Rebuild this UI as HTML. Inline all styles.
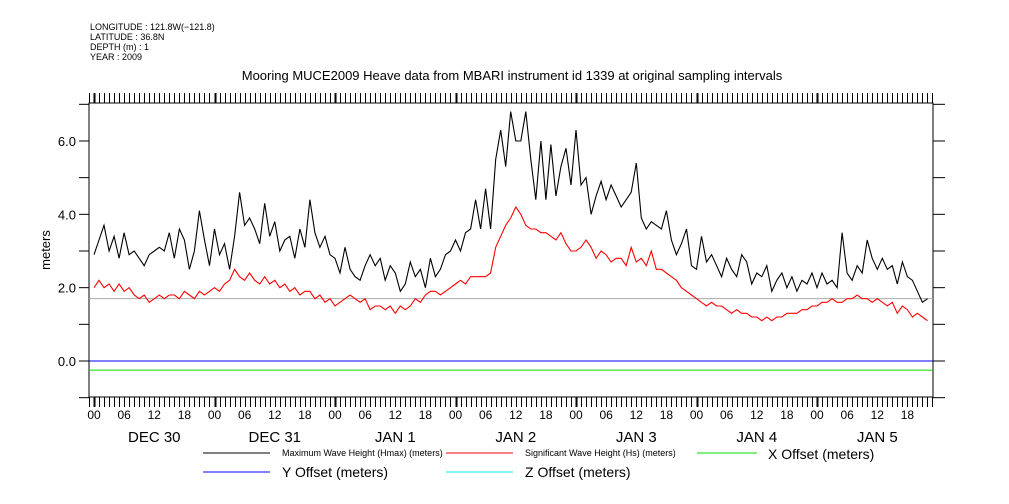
<!DOCTYPE html>
<html><head><meta charset="utf-8"><style>
body{margin:0;background:#fff}
svg{display:block;font-family:"Liberation Sans",sans-serif}
</style></head><body>
<svg id="chart" width="1009" height="504" viewBox="0 0 1009 504" xmlns="http://www.w3.org/2000/svg">
<g font-size="9" fill="#000">
<text x="90" y="30">LONGITUDE : 121.8W(−121.8)</text>
<text x="90" y="40">LATITUDE : 36.8N</text>
<text x="90" y="50">DEPTH (m) : 1</text>
<text x="90" y="60">YEAR : 2009</text>
</g>
<text x="512" y="80" text-anchor="middle" font-size="13">Mooring MUCE2009 Heave data from MBARI instrument id 1339 at original sampling intervals</text>
<text transform="translate(50,250) rotate(-90)" text-anchor="middle" font-size="13">meters</text>
<g id="axes"></g>
<g id="marks"></g>
<g font-size="14">
<line x1="203" y1="453" x2="270" y2="453" stroke="#000"/>
<text x="282" y="456" font-size="9">Maximum Wave Height (Hmax) (meters)</text>
<line x1="446" y1="453" x2="513" y2="453" stroke="#f00"/>
<text x="525" y="456" font-size="9">Significant Wave Height (Hs) (meters)</text>
<line x1="697" y1="453" x2="757" y2="453" stroke="#0d0"/>
<text x="768" y="459">X Offset (meters)</text>
<line x1="203" y1="472" x2="270" y2="472" stroke="#00f"/>
<text x="282" y="477">Y Offset (meters)</text>
<line x1="446" y1="472" x2="513" y2="472" stroke="#0ee"/>
<text x="525" y="477">Z Offset (meters)</text>
</g>
</svg>
<script>
const hmax=[2.9,3.3,3.7,3.0,3.4,2.8,3.5,2.9,3.0,2.8,2.6,2.9,3.0,3.1,3.0,3.5,2.8,3.6,3.3,2.5,3.0,4.1,3.3,2.6,
3.6,2.9,3.2,2.5,3.4,4.6,3.7,3.9,3.6,3.2,4.3,3.4,3.8,3.0,3.3,3.4,2.8,3.6,3.1,4.4,3.5,3.1,3.4,2.9,
2.8,2.4,3.1,2.5,2.3,2.2,2.6,2.9,2.6,2.8,2.2,2.6,2.4,1.9,2.1,2.7,2.3,2.5,2.0,2.8,2.3,2.5,2.9,3.0,
3.3,3.0,3.5,3.6,4.4,3.6,4.7,3.6,5.5,6.3,5.3,6.8,6.0,6.0,6.8,5.5,4.4,6.0,4.4,5.9,4.5,5.3,5.8,4.8,
6.3,4.8,5.0,4.0,4.5,4.9,4.4,4.8,4.5,4.2,4.4,4.6,5.4,3.9,3.6,3.8,3.7,3.6,4.1,3.3,2.9,3.2,3.6,2.6,
2.5,3.4,2.7,2.9,2.6,2.3,2.8,2.5,2.3,2.9,2.7,2.1,2.4,2.3,2.6,1.9,2.2,2.4,2.0,2.3,1.9,2.2,2.1,2.4,
2.0,2.4,2.1,2.2,2.0,3.5,2.4,2.2,2.6,2.4,3.3,2.8,2.5,2.8,2.5,2.6,2.1,2.7,2.3,2.2,1.9,1.6,1.7];
const hs=[2.0,2.2,2.0,2.1,1.9,2.1,1.9,2.0,1.8,1.7,1.8,1.6,1.7,1.8,1.7,1.8,1.8,1.7,1.9,1.8,1.7,1.9,1.8,1.9,
2.0,1.9,2.1,2.2,2.5,2.3,2.2,2.4,2.2,2.1,2.3,2.1,2.2,2.0,2.1,1.9,2.0,1.8,1.9,1.9,1.7,1.8,1.6,1.7,
1.5,1.6,1.7,1.8,1.7,1.6,1.7,1.4,1.5,1.5,1.4,1.5,1.3,1.5,1.4,1.5,1.7,1.6,1.8,1.9,1.9,1.8,1.9,2.0,
2.1,2.2,2.1,2.3,2.3,2.3,2.3,2.4,3.1,3.4,3.7,3.9,4.2,4.0,3.7,3.6,3.6,3.5,3.5,3.4,3.3,3.5,3.2,3.0,
3.0,3.1,3.3,3.1,2.8,3.0,2.9,2.7,2.8,2.8,2.6,3.1,2.7,2.8,2.6,3.0,2.5,2.5,2.4,2.3,2.2,2.0,1.9,1.8,
1.7,1.6,1.5,1.6,1.5,1.5,1.4,1.3,1.4,1.3,1.3,1.2,1.2,1.1,1.2,1.1,1.2,1.2,1.3,1.3,1.3,1.4,1.4,1.5,
1.5,1.6,1.6,1.7,1.6,1.6,1.7,1.7,1.8,1.7,1.7,1.6,1.7,1.6,1.5,1.6,1.3,1.5,1.4,1.2,1.3,1.2,1.1];
const xOffset=[-0.25];
const yOffset=[0.0];
const zOffset=[1.7];
const yTicks=[-1,0,1,2,3,4,5,6,7];
const yLabels=["6.0","4.0","2.0","0.0"];
const dayLabels=["DEC 30","DEC 31","JAN  1","JAN  2","JAN  3","JAN  4","JAN  5"];
const hourLabels=["00","06","12","18"];

const L=89,R=933,T=103,B=397;
const X=h=>94+h*(120.5/24);
const Y=v=>361-v*36.67;
const NS="http://www.w3.org/2000/svg";
const axes=document.getElementById('axes'),marks=document.getElementById('marks');
function mk(tag,attrs,parent){const e=document.createElementNS(NS,tag);for(const k in attrs)e.setAttribute(k,attrs[k]);parent.appendChild(e);return e;}

const frame=mk('rect',{x:L,y:T,width:R-L,height:B-T,fill:'none',stroke:'#000','stroke-width':1},axes);



yTicks.forEach(v=>{
  const y=Y(v);
  const t1=mk('line',{x1:L-10,y1:y,x2:L,y2:y,stroke:'#000'},axes);
  
  
  const t2=mk('line',{x1:R,y1:y,x2:R+12,y2:y,stroke:'#000'},axes);
  
  
});
yLabels.forEach(s=>{
  const t=mk('text',{x:L-13,y:Y(parseFloat(s))+5,'text-anchor':'end','font-size':13},axes);
  t.textContent=s;
  
  
});
for(let h=-1;h<=167;h++){
  const x=Math.round(X(h))+0.5;
  if(x<L||x>R)continue;
  const major=(h%24===0);
  const w=major?2:1;
  const a=mk('line',{x1:x,y1:T-10,x2:x,y2:T,stroke:'#000','stroke-width':w},axes);
  
  
  const b=mk('line',{x1:x,y1:B,x2:x,y2:B+10,stroke:'#000','stroke-width':w},axes);
  
  
}
for(let d=0;d<7;d++){
  hourLabels.forEach((s,i)=>{
    const t=mk('text',{x:X(d*24+i*6),y:419,'text-anchor':'middle','font-size':12},axes);
    t.textContent=s;
    
    
  });
  const t=mk('text',{x:X(d*24+12),y:442,'text-anchor':'middle','font-size':15,'xml:space':'preserve'},axes);
  t.textContent=dayLabels[d];
  
  
}
const zl=mk('line',{x1:L,x2:R,y1:Y(zOffset[0]),y2:Y(zOffset[0]),stroke:'#aaa'},marks);


const yl=mk('line',{x1:L,x2:R,y1:Y(yOffset[0]),y2:Y(yOffset[0]),stroke:'#00f'},marks);


const xl=mk('line',{x1:L,x2:R,y1:Y(xOffset[0]),y2:Y(xOffset[0]),stroke:'#0d0'},marks);


function pts(a){return a.map((v,i)=>X(i).toFixed(1)+','+Y(v).toFixed(1)).join(' ');}
const pm=mk('polyline',{points:pts(hmax),fill:'none',stroke:'#000','stroke-width':1.1},marks);


const ps=mk('polyline',{points:pts(hs),fill:'none',stroke:'#f00','stroke-width':1.1},marks);


</script>
</body></html>
